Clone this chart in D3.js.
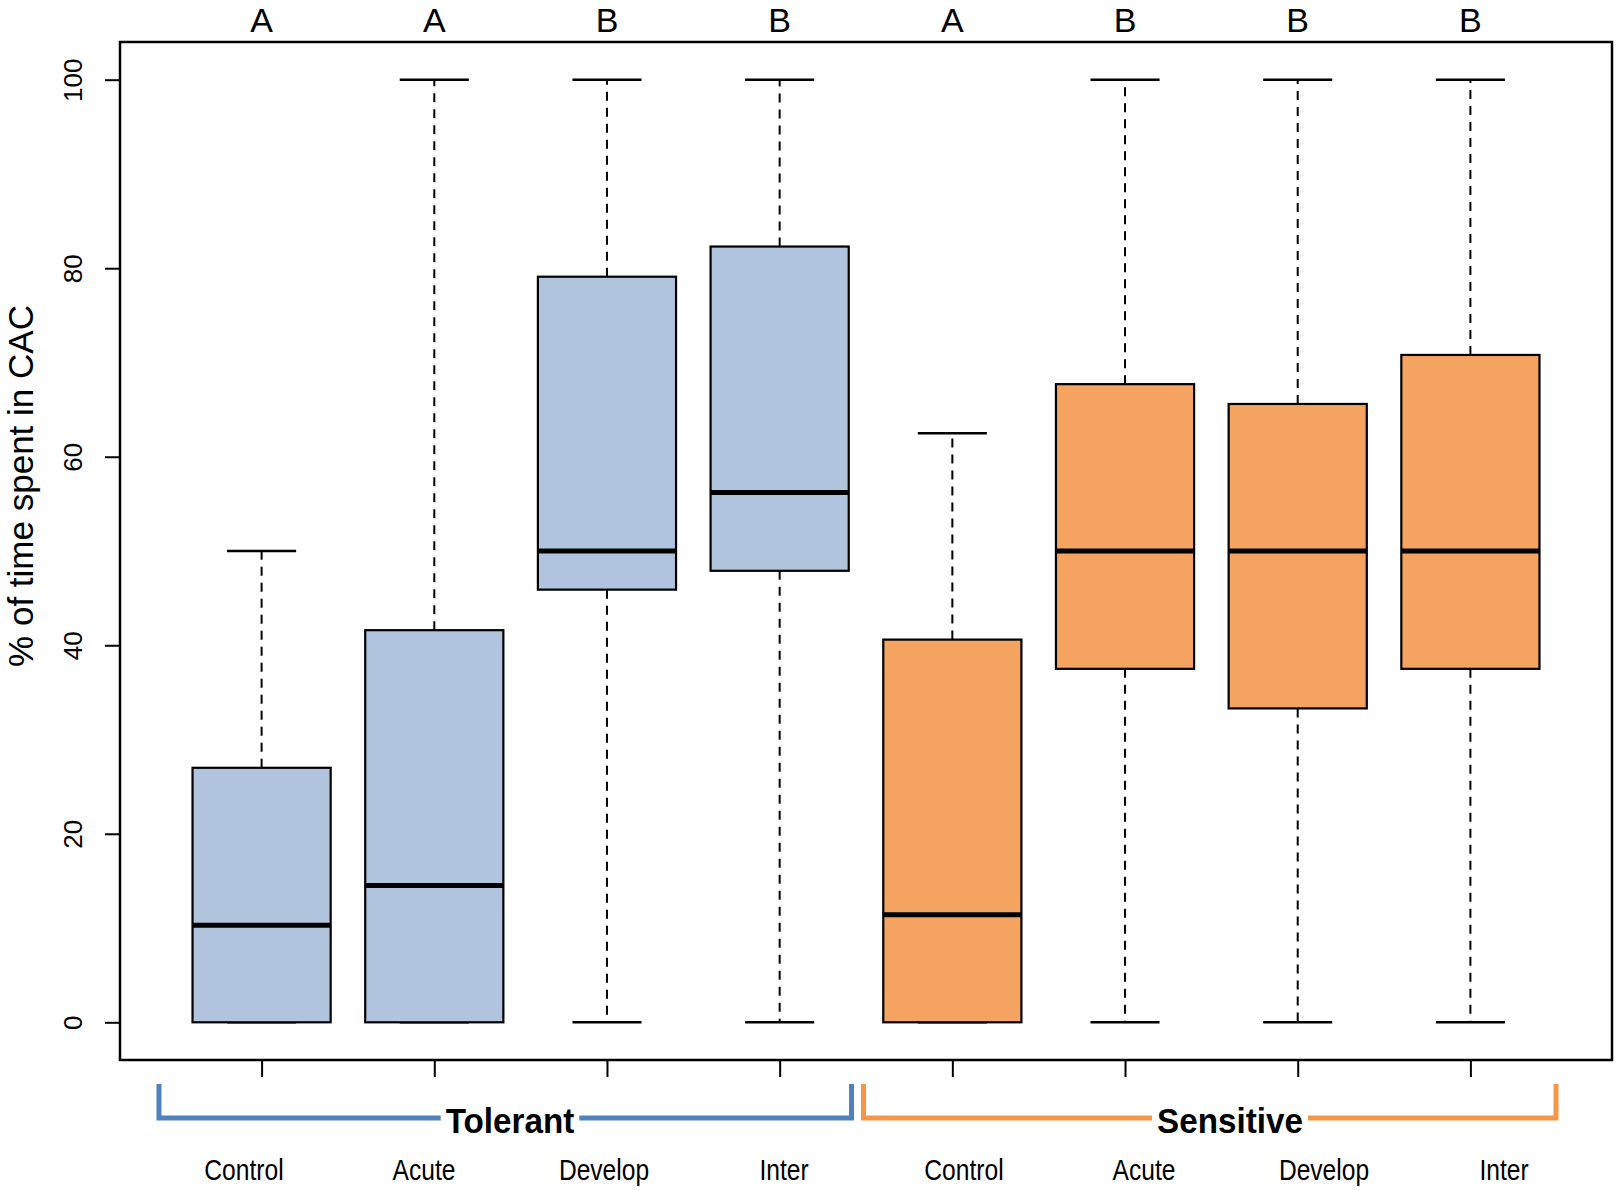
<!DOCTYPE html>
<html>
<head>
<meta charset="utf-8">
<script src="https://cdn.jsdelivr.net/npm/d3@7"></script>
<style>
body { margin: 0; background: #fff; }
</style>
</head>
<body>
<div id="chart"></div>
<script>
const width = 1616;
const height = 1190;

// data
const groups = ["Tolerant", "Sensitive"];
const treatments = ["Control", "Acute", "Develop", "Inter"];
const letters = ["A", "A", "B", "B", "A", "B", "B", "B"];
const whiskerLow = [0, 0, 0, 0, 0, 0, 0, 0];
const q1 = [0, 0, 45.9, 47.9, 0, 37.5, 33.3, 37.5];
const median = [10.3, 14.5, 50, 56.2, 11.4, 50, 50, 50];
const q3 = [27.0, 41.6, 79.1, 82.3, 40.6, 67.7, 65.6, 70.8];
const whiskerHigh = [50, 100, 100, 100, 62.5, 100, 100, 100];
const yTicks = [0, 20, 40, 60, 80, 100];

const boxFill = ["#B0C4DE", "#F4A460"];
const bracketColor = ["#4F81BD", "#F79646"];

const sans = "'Liberation Sans', Arimo, Arial, Helvetica, sans-serif";

function hasFont(name) {
    const c = document.createElement("canvas").getContext("2d");
    c.font = "40px monospace";
    const a = c.measureText("Control Tolerant").width;
    c.font = `40px '${name}', monospace`;
    const b = c.measureText("Control Tolerant").width;
    return a !== b;
}
const narrowOK = hasFont("Liberation Sans Narrow");
const narrow = narrowOK ? "'Liberation Sans Narrow', 'Arial Narrow', sans-serif" : sans;
const squeeze = narrowOK ? "" : " scale(0.82,1)";

const boxes = letters.map((l, i) => ({
    i: i,
    pos: i + 1,
    group: Math.floor(i / treatments.length),
    label: treatments[i % treatments.length],
    letter: l,
    lo: whiskerLow[i], q1: q1[i], med: median[i], q3: q3[i], hi: whiskerHigh[i]
}));

const plotL = 120, plotR = 1612, plotT = 42, plotB = 1060;

const x = d3.scaleLinear().domain([0.18, 8.82]).range([plotL, plotR]);
const y = d3.scaleLinear().domain([-4, 104]).range([plotB, plotT]);
// labels under the axis sit on a slightly wider spacing than the boxes
const labelX = d3.scaleLinear().domain([1, 8]).range([244, 1504]);
// bracket spans
const bracketX = d3.scaleLinear().domain([0, groups.length]).range([153, 1562]);

const svg = d3.select("#chart")
    .append("svg")
    .attr("width", width)
    .attr("height", height);

// y axis
const gy = svg.append("g")
    .attr("transform", `translate(${plotL},0)`)
    .call(d3.axisLeft(y).tickValues(yTicks).tickSize(15).tickFormat(d3.format("d")));
gy.select(".domain").remove();
gy.selectAll(".tick line").attr("stroke", "#000").attr("stroke-width", 2);
gy.selectAll(".tick text")
    .attr("transform", "rotate(-90)")
    .attr("x", 0)
    .attr("y", -38)
    .attr("dy", 0)
    .attr("text-anchor", "middle")
    .attr("fill", "#000")
    .style("font-family", sans)
    .style("font-size", "26px");

// x axis ticks, no labels
const gx = svg.append("g")
    .attr("transform", `translate(0,${plotB})`)
    .call(d3.axisBottom(x).tickValues(boxes.map(d => d.pos)).tickSize(17).tickFormat(""));
gx.select(".domain").remove();
gx.selectAll(".tick line").attr("stroke", "#000").attr("stroke-width", 2);

// boxes
const half = 0.4, stapleHalf = 0.2;
const bx = svg.selectAll(".box")
    .data(boxes)
    .enter().append("g")
    .attr("class", "box");

bx.append("line")
    .attr("x1", d => x(d.pos)).attr("x2", d => x(d.pos))
    .attr("y1", d => y(d.q3)).attr("y2", d => y(d.hi))
    .attr("stroke", "#000").attr("stroke-width", 2).attr("stroke-dasharray", "9,7");
bx.filter(d => d.q1 > d.lo).append("line")
    .attr("x1", d => x(d.pos)).attr("x2", d => x(d.pos))
    .attr("y1", d => y(d.q1)).attr("y2", d => y(d.lo))
    .attr("stroke", "#000").attr("stroke-width", 2).attr("stroke-dasharray", "9,7");

bx.append("line")
    .attr("x1", d => x(d.pos - stapleHalf)).attr("x2", d => x(d.pos + stapleHalf))
    .attr("y1", d => y(d.hi)).attr("y2", d => y(d.hi))
    .attr("stroke", "#000").attr("stroke-width", 2.5);
bx.append("line")
    .attr("x1", d => x(d.pos - stapleHalf)).attr("x2", d => x(d.pos + stapleHalf))
    .attr("y1", d => y(d.lo)).attr("y2", d => y(d.lo))
    .attr("stroke", "#000").attr("stroke-width", 2.5);

bx.append("rect")
    .attr("x", d => x(d.pos - half))
    .attr("width", d => x(d.pos + half) - x(d.pos - half))
    .attr("y", d => y(d.q3))
    .attr("height", d => y(d.q1) - y(d.q3))
    .attr("fill", d => boxFill[d.group])
    .attr("stroke", "#000")
    .attr("stroke-width", 2.2);

bx.append("line")
    .attr("x1", d => x(d.pos - half)).attr("x2", d => x(d.pos + half))
    .attr("y1", d => y(d.med)).attr("y2", d => y(d.med))
    .attr("stroke", "#000").attr("stroke-width", 5);

// frame
svg.append("rect")
    .attr("x", plotL).attr("y", plotT)
    .attr("width", plotR - plotL).attr("height", plotB - plotT)
    .attr("fill", "none").attr("stroke", "#000").attr("stroke-width", 2.5);

// letters above
svg.selectAll(".letter")
    .data(boxes)
    .enter().append("text")
    .attr("class", "letter")
    .attr("x", d => x(d.pos))
    .attr("y", 32)
    .attr("text-anchor", "middle")
    .style("font-family", sans)
    .style("font-size", "34px")
    .text(d => d.letter);

// y label
svg.append("text")
    .attr("transform", "translate(33,486) rotate(-90)")
    .attr("text-anchor", "middle")
    .style("font-family", sans)
    .style("font-size", "35px")
    .text("% of time spent in CAC");

// treatment labels
svg.selectAll(".tlabel")
    .data(boxes)
    .enter().append("text")
    .attr("class", "tlabel")
    .attr("transform", d => `translate(${labelX(d.pos)},1180)${squeeze}`)
    .attr("text-anchor", "middle")
    .style("font-family", narrow)
    .style("font-size", "30px")
    .text(d => d.label);

// group brackets
const bTop = 1084, bLine = 1118, gap = 5, gScale = 0.95;
groups.forEach((g, gi) => {
    const members = boxes.filter(d => d.group === gi);
    const left = bracketX(gi) + 6;
    const right = bracketX(gi + 1) - 6;
    const cx = labelX(d3.mean(members, d => d.pos)) - 4;
    const t = svg.append("text")
        .attr("transform", `translate(${cx},1133) scale(${gScale},1)`)
        .attr("text-anchor", "middle")
        .style("font-family", sans)
        .style("font-weight", "bold")
        .style("font-size", "35px")
        .text(g);
    const tw = t.node().getComputedTextLength() * gScale;
    svg.append("path")
        .attr("d", `M${left},${bTop}V${bLine}H${cx - tw / 2 - gap}`)
        .attr("fill", "none").attr("stroke", bracketColor[gi]).attr("stroke-width", 5);
    svg.append("path")
        .attr("d", `M${cx + tw / 2 + gap},${bLine}H${right}V${bTop}`)
        .attr("fill", "none").attr("stroke", bracketColor[gi]).attr("stroke-width", 5);
});
</script>
</body>
</html>
